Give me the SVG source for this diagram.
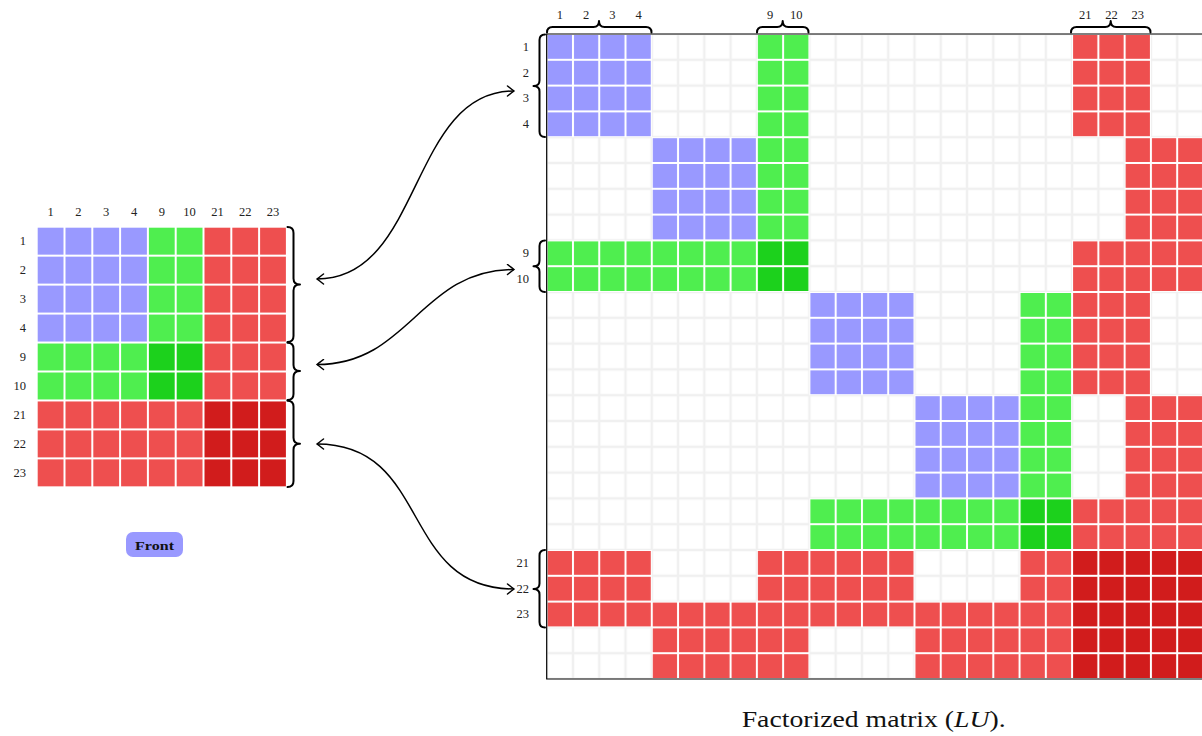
<svg xmlns="http://www.w3.org/2000/svg" width="1202" height="736" viewBox="0 0 1202 736">
<style>
.lbl{font-family:"Liberation Serif","Times New Roman",serif;font-size:12.5px;fill:#222}
.mid{text-anchor:middle}
.end{text-anchor:end}
.brace{fill:none;stroke:#000;stroke-width:2;stroke-linejoin:round;stroke-linecap:round}
.conn{fill:none;stroke:#000;stroke-width:1.5;marker-start:url(#ah);marker-end:url(#ah)}
</style>
<defs>
<marker id="ah" viewBox="-8 -6 10 12" refX="0" refY="0" markerWidth="10" markerHeight="12" markerUnits="userSpaceOnUse" orient="auto-start-reverse">
<path d="M-6.5,-5 Q-1.5,-1.2 0,0 Q-1.5,1.2 -6.5,5" fill="none" stroke="#000" stroke-width="1.5" stroke-linecap="round"/>
</marker>
<!-- right matrix tiles -->
<pattern id="rG" patternUnits="userSpaceOnUse" x="546.7" y="34" width="26.27" height="25.8"><rect width="26.27" height="25.8" fill="#fff" stroke="#f0f0f0" stroke-width="2.4"/></pattern>
<pattern id="rB" patternUnits="userSpaceOnUse" x="546.7" y="34" width="26.27" height="25.8"><rect width="26.27" height="25.8" fill="#9999ff" stroke="#fff" stroke-width="2"/></pattern>
<pattern id="rGr" patternUnits="userSpaceOnUse" x="546.7" y="34" width="26.27" height="25.8"><rect width="26.27" height="25.8" fill="#4fee4f" stroke="#fff" stroke-width="2"/></pattern>
<pattern id="rDG" patternUnits="userSpaceOnUse" x="546.7" y="34" width="26.27" height="25.8"><rect width="26.27" height="25.8" fill="#1cd11c" stroke="#fff" stroke-width="2"/></pattern>
<pattern id="rR" patternUnits="userSpaceOnUse" x="546.7" y="34" width="26.27" height="25.8"><rect width="26.27" height="25.8" fill="#ee4f4f" stroke="#fff" stroke-width="2"/></pattern>
<pattern id="rDR" patternUnits="userSpaceOnUse" x="546.7" y="34" width="26.27" height="25.8"><rect width="26.27" height="25.8" fill="#d11c1c" stroke="#fff" stroke-width="2"/></pattern>
<!-- left matrix tiles -->
<pattern id="lB" patternUnits="userSpaceOnUse" x="36.7" y="226.7" width="27.8" height="28.96"><rect width="27.8" height="28.96" fill="#9999ff" stroke="#fff" stroke-width="2"/></pattern>
<pattern id="lGr" patternUnits="userSpaceOnUse" x="36.7" y="226.7" width="27.8" height="28.96"><rect width="27.8" height="28.96" fill="#4fee4f" stroke="#fff" stroke-width="2"/></pattern>
<pattern id="lDG" patternUnits="userSpaceOnUse" x="36.7" y="226.7" width="27.8" height="28.96"><rect width="27.8" height="28.96" fill="#1cd11c" stroke="#fff" stroke-width="2"/></pattern>
<pattern id="lR" patternUnits="userSpaceOnUse" x="36.7" y="226.7" width="27.8" height="28.96"><rect width="27.8" height="28.96" fill="#ee4f4f" stroke="#fff" stroke-width="2"/></pattern>
<pattern id="lDR" patternUnits="userSpaceOnUse" x="36.7" y="226.7" width="27.8" height="28.96"><rect width="27.8" height="28.96" fill="#d11c1c" stroke="#fff" stroke-width="2"/></pattern>
</defs>
<rect width="1202" height="736" fill="#fff"/>

<!-- Left (front) matrix -->
<g id="front-matrix">
<rect x="36.7" y="226.7" width="111.2" height="115.84" fill="url(#lB)"/>
<rect x="147.9" y="226.7" width="55.6" height="115.84" fill="url(#lGr)"/>
<rect x="36.7" y="342.54" width="111.2" height="57.92" fill="url(#lGr)"/>
<rect x="147.9" y="342.54" width="55.6" height="57.92" fill="url(#lDG)"/>
<rect x="203.5" y="226.7" width="83.4" height="173.76" fill="url(#lR)"/>
<rect x="36.7" y="400.46" width="166.8" height="86.88" fill="url(#lR)"/>
<rect x="203.5" y="400.46" width="83.4" height="86.88" fill="url(#lDR)"/>
<g class="lbl mid">
<text x="50.6" y="216">1</text><text x="78.4" y="216">2</text><text x="106.2" y="216">3</text><text x="134" y="216">4</text><text x="161.8" y="216">9</text><text x="189.6" y="216">10</text><text x="217.4" y="216">21</text><text x="245.2" y="216">22</text><text x="273" y="216">23</text>
</g>
<g class="lbl end">
<text x="26" y="245">1</text><text x="26" y="274">2</text><text x="26" y="303">3</text><text x="26" y="332">4</text><text x="26" y="361">9</text><text x="26" y="390">10</text><text x="26" y="419">21</text><text x="26" y="448">22</text><text x="26" y="477">23</text>
</g>
<path class="brace" d="M287.5,227 Q293.5,227 293.5,233 L293.5,278.5 Q293.5,284.5 300,284.5 Q293.5,284.5 293.5,290.5 L293.5,336 Q293.5,342 287.5,342"/>
<path class="brace" d="M287.5,342.8 Q293.5,342.8 293.5,348.8 L293.5,365 Q293.5,371 300,371 Q293.5,371 293.5,377 L293.5,394 Q293.5,400 287.5,400"/>
<path class="brace" d="M287.5,400.8 Q293.5,400.8 293.5,406.8 L293.5,437.8 Q293.5,443.8 300,443.8 Q293.5,443.8 293.5,449.8 L293.5,481 Q293.5,487 287.5,487"/>
</g>

<!-- Front tag -->
<g id="front-tag">
<rect x="126" y="532" width="57" height="25" rx="7" ry="7" fill="#9999ff"/>
<text x="154.5" y="549.5" text-anchor="middle" textLength="39" lengthAdjust="spacingAndGlyphs" style="font-family:'Liberation Serif','Times New Roman',serif;font-size:13.5px;font-weight:bold;fill:#111">Front</text>
</g>

<!-- Right (factorized) matrix -->
<g id="lu-matrix">
<rect x="546.7" y="34" width="660" height="645" fill="url(#rG)"/>
<rect x="546.7" y="34" width="105.08" height="103.2" fill="url(#rB)"/>
<rect x="651.78" y="137.2" width="105.08" height="103.2" fill="url(#rB)"/>
<rect x="809.4" y="292" width="105.08" height="103.2" fill="url(#rB)"/>
<rect x="914.48" y="395.2" width="105.08" height="103.2" fill="url(#rB)"/>
<rect x="756.86" y="34" width="52.54" height="206.4" fill="url(#rGr)"/>
<rect x="546.7" y="240.4" width="210.16" height="51.6" fill="url(#rGr)"/>
<rect x="1019.56" y="292" width="52.54" height="206.4" fill="url(#rGr)"/>
<rect x="809.4" y="498.4" width="210.16" height="51.6" fill="url(#rGr)"/>
<rect x="756.86" y="240.4" width="52.54" height="51.6" fill="url(#rDG)"/>
<rect x="1019.56" y="498.4" width="52.54" height="51.6" fill="url(#rDG)"/>
<rect x="1072.1" y="34" width="78.81" height="103.2" fill="url(#rR)"/>
<rect x="1124.64" y="137.2" width="78.81" height="103.2" fill="url(#rR)"/>
<rect x="1072.1" y="240.4" width="131.35" height="51.6" fill="url(#rR)"/>
<rect x="1072.1" y="292" width="78.81" height="103.2" fill="url(#rR)"/>
<rect x="1124.64" y="395.2" width="78.81" height="103.2" fill="url(#rR)"/>
<rect x="1072.1" y="498.4" width="131.35" height="51.6" fill="url(#rR)"/>
<rect x="546.7" y="550" width="105.08" height="51.6" fill="url(#rR)"/>
<rect x="756.86" y="550" width="157.62" height="51.6" fill="url(#rR)"/>
<rect x="1019.56" y="550" width="52.54" height="51.6" fill="url(#rR)"/>
<rect x="546.7" y="601.6" width="525.4" height="25.8" fill="url(#rR)"/>
<rect x="651.78" y="627.4" width="157.62" height="51.6" fill="url(#rR)"/>
<rect x="914.48" y="627.4" width="157.62" height="51.6" fill="url(#rR)"/>
<rect x="1072.1" y="550" width="131.35" height="129" fill="url(#rDR)"/>
<path d="M1210,34 H546.7 V679 H1210" fill="none" stroke="#000" stroke-width="1.2"/>
<g class="lbl mid">
<text x="559.8" y="19">1</text><text x="586.1" y="19">2</text><text x="612.4" y="19">3</text><text x="638.6" y="19">4</text><text x="770" y="19">9</text><text x="796.3" y="19">10</text><text x="1085.2" y="19">21</text><text x="1111.5" y="19">22</text><text x="1137.8" y="19">23</text>
</g>
<g class="lbl end">
<text x="529" y="50.7">1</text><text x="529" y="76.5">2</text><text x="529" y="102.3">3</text><text x="529" y="128.1">4</text><text x="529" y="257.1">9</text><text x="529" y="282.9">10</text><text x="529" y="566.7">21</text><text x="529" y="592.5">22</text><text x="529" y="618.3">23</text>
</g>
<path class="brace" d="M547,32.5 Q547,27 552.5,27 L593.5,27 Q599,27 599,21 Q599,27 604.5,27 L646,27 Q651.5,27 651.5,32.5"/>
<path class="brace" d="M757,32.5 Q757,27 762.5,27 L777.2,27 Q782.7,27 782.7,21 Q782.7,27 788.2,27 L803,27 Q808.5,27 808.5,32.5"/>
<path class="brace" d="M1071,32.5 Q1071,27 1076.5,27 L1105.2,27 Q1110.7,27 1110.7,21 Q1110.7,27 1116.2,27 L1145,27 Q1150.5,27 1150.5,32.5"/>
<path class="brace" d="M545,34.5 Q539.5,34.5 539.5,40 L539.5,80.5 Q539.5,86 533.5,86 Q539.5,86 539.5,91.5 L539.5,131.5 Q539.5,137 545,137"/>
<path class="brace" d="M545,240.5 Q539.5,240.5 539.5,246 L539.5,260.8 Q539.5,266.3 533.5,266.3 Q539.5,266.3 539.5,271.8 L539.5,286.5 Q539.5,292 545,292"/>
<path class="brace" d="M545,550 Q539.5,550 539.5,555.5 L539.5,583.5 Q539.5,589 533.5,589 Q539.5,589 539.5,594.5 L539.5,622 Q539.5,627.5 545,627.5"/>
</g>

<!-- Connectors -->
<g id="connectors">
<path class="conn" d="M317,279 C423,279 409,91 514,91"/>
<path class="conn" d="M317,364.5 C410,364.5 420,269.5 514,269.5"/>
<path class="conn" d="M317,444 C432,444 399,589 514,589"/>
</g>

<!-- Caption -->
<text x="741.7" y="727" textLength="264" lengthAdjust="spacingAndGlyphs" style="font-family:'Liberation Serif','Times New Roman',serif;font-size:24px;fill:#111">Factorized matrix (<tspan font-style="italic">LU</tspan>).</text>
</svg>
